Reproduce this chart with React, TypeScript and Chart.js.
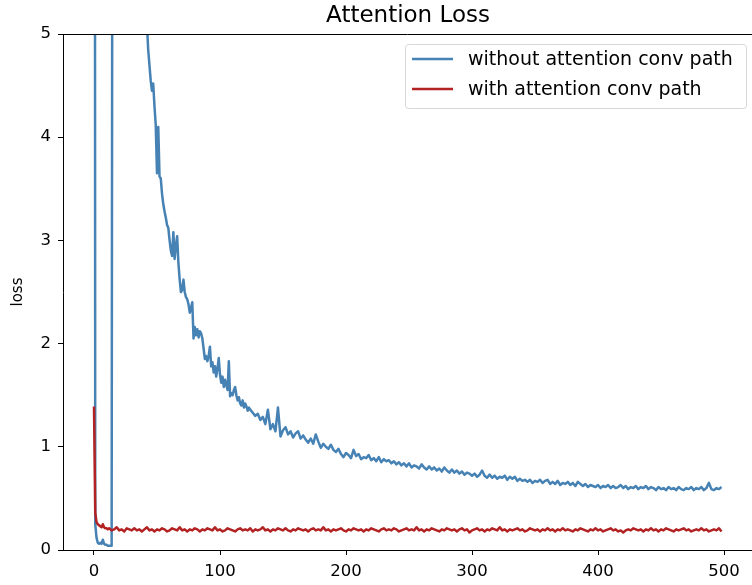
import { useEffect, useRef } from "react";
import { Chart, registerables } from "chart.js";

Chart.register(...registerables);

const TITLE = "Attention Loss";
const Y_LABEL = "loss";
const SERIES_NAMES = ["without attention conv path", "with attention conv path"];
const SERIES_COLORS = ["#4682b4", "#b22222"];
const X_TICKS = [0, 100, 200, 300, 400, 500];
const Y_TICKS = [0, 1, 2, 3, 4, 5];

// blue: epochs 0..123 (every epoch)
const blueDense = [
  25, 0.25, 0.12, 0.07, 0.06, 0.07, 0.06, 0.1, 0.06, 0.05,
  0.05, 0.04, 0.04, 0.04, 0.04, 12, 11.5, 11, 10.6, 10.2,
  9.8, 9.5, 9.2, 8.9, 8.6, 8.3, 8.0, 7.8, 7.6, 7.4,
  7.2, 7.0, 6.8, 6.6, 6.4, 6.2, 6.0, 5.85, 5.7, 5.55,
  5.4, 5.25, 5.1, 4.85, 4.7, 4.55, 4.45, 4.52, 4.3, 4.12,
  3.65, 4.1, 3.62, 3.6, 3.45, 3.35, 3.28, 3.22, 3.15, 3.12,
  3.0, 2.9, 2.85, 3.08, 2.82, 2.95, 3.04, 2.78, 2.62, 2.5,
  2.52, 2.62, 2.5, 2.45, 2.43, 2.38, 2.3, 2.35, 2.4, 2.05,
  2.16, 2.08, 2.14, 2.06, 2.12, 2.1, 2.05, 1.95, 1.85, 1.88,
  1.83, 1.88, 1.97, 1.78, 1.82, 1.72, 1.78, 1.68, 1.76, 1.86,
  1.7, 1.62, 1.68, 1.58, 1.65, 1.6, 1.55, 1.83, 1.49, 1.52,
  1.5, 1.55, 1.58, 1.5, 1.45, 1.48, 1.42, 1.4, 1.45, 1.38,
  1.42, 1.39, 1.35, 1.38,
];
const BLUE_SPARSE_START = 124;
// blue: epochs 124..498, every 2 epochs
const blueSparse = [
  1.36, 1.33, 1.30, 1.32, 1.26, 1.29, 1.22, 1.36, 1.17, 1.22,
  1.15, 1.38, 1.10, 1.16, 1.19, 1.12, 1.15, 1.09, 1.13, 1.15,
  1.08, 1.11, 1.07, 1.04, 1.08, 1.03, 1.12, 1.05, 0.99, 1.03,
  1.00, 0.98, 1.02, 0.97, 0.95, 0.98, 0.93, 0.90, 0.94, 0.92,
  0.89, 0.97, 0.91, 0.93, 0.88, 0.90, 0.89, 0.92, 0.87, 0.89,
  0.86, 0.90, 0.85, 0.88, 0.86, 0.87, 0.84, 0.86, 0.83, 0.85,
  0.82, 0.84, 0.81, 0.84, 0.80, 0.82, 0.81, 0.79, 0.83, 0.80,
  0.78, 0.81, 0.78, 0.80, 0.77, 0.79, 0.76, 0.80, 0.77, 0.75,
  0.78, 0.75, 0.77, 0.74, 0.76, 0.73, 0.75, 0.74, 0.72, 0.74,
  0.71, 0.73, 0.77, 0.72, 0.70, 0.73, 0.70, 0.72, 0.69, 0.71,
  0.70, 0.72, 0.68, 0.71, 0.69, 0.71, 0.67, 0.69, 0.67, 0.68,
  0.66, 0.68, 0.65, 0.67, 0.66, 0.68, 0.65, 0.67, 0.68, 0.64,
  0.66, 0.64, 0.67, 0.63, 0.65, 0.64, 0.66, 0.63, 0.65, 0.62,
  0.66, 0.64, 0.62, 0.64, 0.61, 0.63, 0.62, 0.61, 0.63, 0.60,
  0.62, 0.61, 0.63, 0.60, 0.62, 0.60, 0.61, 0.63, 0.60, 0.62,
  0.59, 0.61, 0.60, 0.62, 0.59, 0.61, 0.60, 0.62, 0.59, 0.61,
  0.60, 0.58, 0.61, 0.59, 0.60, 0.58, 0.61, 0.59, 0.60, 0.58,
  0.61, 0.59, 0.58, 0.60, 0.59, 0.61, 0.58, 0.60, 0.59, 0.61,
  0.58, 0.60, 0.65, 0.59, 0.58, 0.60, 0.59, 0.61,
];

// red: epochs 0..11 (every epoch)
const redDense = [1.39, 0.36, 0.27, 0.25, 0.24, 0.23, 0.22, 0.25, 0.22, 0.21, 0.21, 0.2];
const RED_SPARSE_START = 12;
// red: epochs 12..498, every 2 epochs
const redSparse = [
  0.21, 0.19, 0.20, 0.22, 0.19, 0.20, 0.18, 0.21, 0.20, 0.19,
  0.21, 0.19, 0.20, 0.18, 0.20, 0.22, 0.19, 0.20, 0.18, 0.20,
  0.19, 0.21, 0.20, 0.18, 0.19, 0.21, 0.20, 0.19, 0.22, 0.19,
  0.20, 0.18, 0.20, 0.19, 0.21, 0.20, 0.18, 0.20, 0.19, 0.21,
  0.20, 0.19, 0.22, 0.19, 0.20, 0.18, 0.19, 0.21, 0.20, 0.19,
  0.18, 0.20, 0.21, 0.19, 0.20, 0.19, 0.21, 0.18, 0.20, 0.19,
  0.20, 0.22, 0.19, 0.20, 0.18, 0.20, 0.19, 0.21, 0.20, 0.19,
  0.21, 0.19, 0.18, 0.20, 0.19, 0.21, 0.20, 0.19, 0.20, 0.18,
  0.20, 0.21, 0.19, 0.20, 0.19, 0.22, 0.19, 0.20, 0.18, 0.20,
  0.19, 0.20, 0.21, 0.19, 0.18, 0.20, 0.19, 0.21, 0.20, 0.19,
  0.20, 0.18, 0.20, 0.19, 0.21, 0.20, 0.19, 0.18, 0.20, 0.21,
  0.19, 0.20, 0.19, 0.21, 0.20, 0.18, 0.19, 0.20, 0.21, 0.19,
  0.20, 0.19, 0.22, 0.19, 0.20, 0.18, 0.20, 0.19, 0.21, 0.20,
  0.19, 0.18, 0.20, 0.19, 0.21, 0.20, 0.19, 0.20, 0.18, 0.20,
  0.21, 0.19, 0.20, 0.17, 0.19, 0.20, 0.21, 0.19, 0.20, 0.18,
  0.20, 0.19, 0.21, 0.20, 0.19, 0.22, 0.19, 0.20, 0.18, 0.20,
  0.19, 0.20, 0.21, 0.19, 0.20, 0.18, 0.19, 0.21, 0.20, 0.19,
  0.20, 0.18, 0.20, 0.19, 0.21, 0.19, 0.20, 0.18, 0.20, 0.19,
  0.21, 0.19, 0.20, 0.19, 0.18, 0.20, 0.19, 0.21, 0.20, 0.19,
  0.18, 0.20, 0.19, 0.21, 0.19, 0.20, 0.18, 0.19, 0.20, 0.21,
  0.19, 0.20, 0.18, 0.19, 0.17, 0.19, 0.20, 0.19, 0.21, 0.20,
  0.19, 0.20, 0.18, 0.20, 0.19, 0.21, 0.19, 0.20, 0.18, 0.20,
  0.19, 0.21, 0.20, 0.19, 0.18, 0.20, 0.19, 0.20, 0.21, 0.19,
  0.20, 0.18, 0.19, 0.20, 0.19, 0.21, 0.19, 0.20, 0.18, 0.19,
  0.20, 0.19, 0.21, 0.18,
];

const FONT = '"DejaVu Sans", "Liberation Sans", sans-serif';

function toPoints(dense: number[], sparse: number[], sparseStart: number) {
  return [
    ...dense.map((v, i) => ({ x: i, y: v })),
    ...sparse.map((v, i) => ({ x: sparseStart + 2 * i, y: v })),
  ];
}

const decorPlugin = {
  id: "decor",
  afterDraw(chart: any) {
    const { ctx, chartArea } = chart;
    const { left, right, top } = chartArea;
    ctx.save();
    // top spine
    ctx.strokeStyle = "#000";
    ctx.lineWidth = 1;
    ctx.beginPath();
    ctx.moveTo(left, top + 0.5);
    ctx.lineTo(right, top + 0.5);
    ctx.stroke();

    // title centred on the axes
    ctx.fillStyle = "#000";
    ctx.font = `23px ${FONT}`;
    ctx.textAlign = "center";
    ctx.textBaseline = "alphabetic";
    ctx.fillText(TITLE, 408, 22);

    // legend
    const bx = 405.5, by = 44.5, bw = 341, bh = 64, r = 3;
    ctx.beginPath();
    ctx.moveTo(bx + r, by);
    ctx.lineTo(bx + bw - r, by);
    ctx.arcTo(bx + bw, by, bx + bw, by + r, r);
    ctx.lineTo(bx + bw, by + bh - r);
    ctx.arcTo(bx + bw, by + bh, bx + bw - r, by + bh, r);
    ctx.lineTo(bx + r, by + bh);
    ctx.arcTo(bx, by + bh, bx, by + bh - r, r);
    ctx.lineTo(bx, by + r);
    ctx.arcTo(bx, by, bx + r, by, r);
    ctx.closePath();
    ctx.fillStyle = "rgba(255,255,255,0.8)";
    ctx.fill();
    ctx.strokeStyle = "#d6d6d6";
    ctx.lineWidth = 1;
    ctx.stroke();

    const rows = [59, 89];
    ctx.font = `19px ${FONT}`;
    ctx.textAlign = "left";
    ctx.textBaseline = "middle";
    SERIES_NAMES.forEach((name, i) => {
      ctx.strokeStyle = SERIES_COLORS[i];
      ctx.lineWidth = 2.5;
      ctx.beginPath();
      ctx.moveTo(412, rows[i]);
      ctx.lineTo(453, rows[i]);
      ctx.stroke();
      ctx.fillStyle = "#000";
      ctx.fillText(name, 468, rows[i] + 1);
    });
    ctx.restore();
  },
};

export default function App() {
  const canvasRef = useRef<HTMLCanvasElement | null>(null);

  useEffect(() => {
    const canvas = canvasRef.current;
    if (!canvas) return;
    const chart = new Chart(canvas, {
      type: "line",
      data: {
        datasets: [
          {
            label: SERIES_NAMES[0],
            data: toPoints(blueDense, blueSparse, BLUE_SPARSE_START),
            borderColor: SERIES_COLORS[0],
            backgroundColor: SERIES_COLORS[0],
            borderWidth: 2.5,
            pointRadius: 0,
            tension: 0,
            borderJoinStyle: "round",
            clip: 0,
            order: 2,
          },
          {
            label: SERIES_NAMES[1],
            data: toPoints(redDense, redSparse, RED_SPARSE_START),
            borderColor: SERIES_COLORS[1],
            backgroundColor: SERIES_COLORS[1],
            borderWidth: 2.5,
            pointRadius: 0,
            tension: 0,
            borderJoinStyle: "round",
            clip: 0,
            order: 1,
          },
        ],
      },
      options: {
        responsive: false,
        animation: false,
        events: [],
        layout: { padding: { top: 34, left: 0, right: 0, bottom: 0 } },
        plugins: {
          legend: { display: false },
          title: { display: false },
          tooltip: { enabled: false },
        },
        scales: {
          x: {
            type: "linear",
            min: -24.6,
            max: 522.2,
            afterBuildTicks: (scale: any) => {
              scale.ticks = X_TICKS.map((v) => ({ value: v }));
            },
            afterFit: (scale: any) => {
              scale.height = 35;
            },
            ticks: {
              autoSkip: false,
              maxRotation: 0,
              padding: 7,
              color: "#000",
              font: { family: FONT, size: 16.5 },
            },
            grid: {
              drawOnChartArea: false,
              drawTicks: true,
              tickLength: 5,
              color: "#000",
              lineWidth: 1,
            },
            border: { display: true, color: "#000", width: 1 },
          },
          y: {
            type: "linear",
            min: 0,
            max: 5,
            afterBuildTicks: (scale: any) => {
              scale.ticks = Y_TICKS.map((v) => ({ value: v }));
            },
            afterFit: (scale: any) => {
              scale.width = 63;
            },
            ticks: {
              autoSkip: false,
              padding: 7,
              color: "#000",
              font: { family: FONT, size: 16.5 },
            },
            grid: {
              drawOnChartArea: false,
              drawTicks: true,
              tickLength: 5,
              color: "#000",
              lineWidth: 1,
            },
            border: { display: true, color: "#000", width: 1 },
            title: {
              display: true,
              text: Y_LABEL,
              color: "#000",
              font: { family: FONT, size: 15 },
              padding: { top: 9, bottom: 0 },
            },
          },
        },
      },
      plugins: [decorPlugin],
    });
    return () => chart.destroy();
  }, []);

  return (
    <div style={{ position: "fixed", left: 0, top: 0, width: 752, height: 585, background: "#fff" }}>
      <canvas ref={canvasRef} width={752} height={585} style={{ display: "block" }} />
    </div>
  );
}
